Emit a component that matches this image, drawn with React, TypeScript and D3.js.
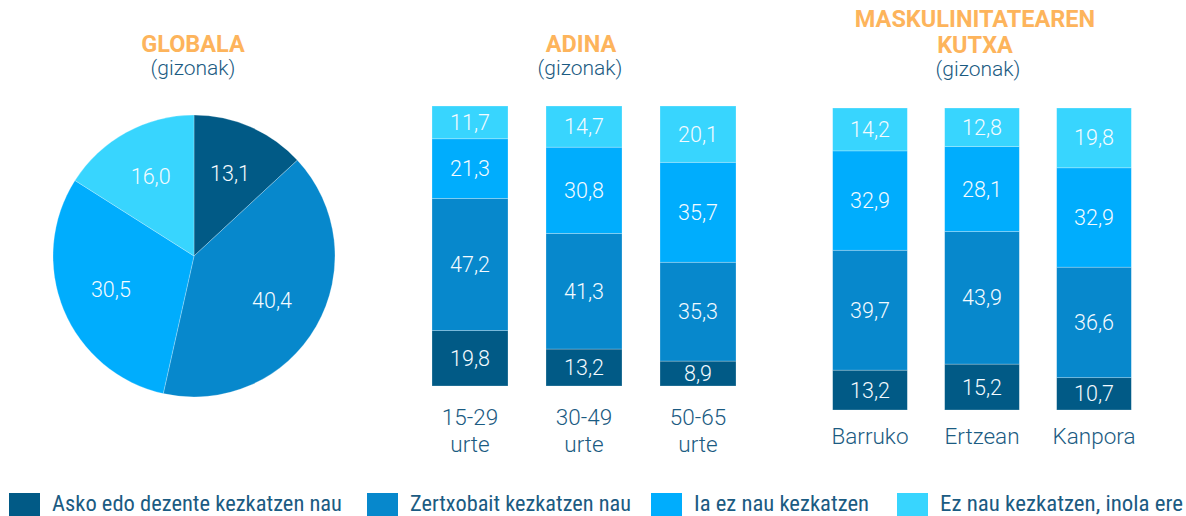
import React from "react";
import * as d3 from "d3";

const SERIES = [
  "Asko edo dezente kezkatzen nau",
  "Zertxobait kezkatzen nau",
  "Ia ez nau kezkatzen",
  "Ez nau kezkatzen, inola ere",
];
const COLORS = ["#015a86", "#0788cc", "#00adfd", "#38d5fe"];

const PIE_VALUES = [13.1, 40.4, 30.5, 16.0];

const AGE_CATS = ["15-29|urte", "30-49|urte", "50-65|urte"];
const AGE_VALUES = [
  [19.8, 47.2, 21.3, 11.7],
  [13.2, 41.3, 30.8, 14.7],
  [8.9, 35.3, 35.7, 20.1],
];

const BOX_CATS = ["Barruko", "Ertzean", "Kanpora"];
const BOX_VALUES = [
  [13.2, 39.7, 32.9, 14.2],
  [15.2, 43.9, 28.1, 12.8],
  [10.7, 36.6, 32.9, 19.8],
];

const fmt = (v: number) => v.toFixed(1).replace(".", ",");
const ORANGE = "#fdb45c";
const NAVY = "#1b5b82";
const FONT = "Roboto, 'Liberation Sans', sans-serif";

function Stacked({ cats, values, x0, x1, yTop, yBottom, labelY }: any) {
  const x = d3.scaleBand<string>().domain(cats).range([x0, x1]).paddingInner(1 / 3).paddingOuter(1 / 6);
  const y = d3.scaleLinear().domain([0, 100]).range([yBottom, yTop]);
  const stack = d3.stack<number[]>().keys([0, 1, 2, 3] as any).value((d: any, k: any) => d[k]);
  const layers = stack(values as any);
  return (
    <g>
      {layers.map((layer, si) =>
        layer.map((seg, ci) => {
          const bx = x(cats[ci])!;
          const top = y(seg[1]);
          const bot = y(seg[0]);
          return (
            <g key={`${si}-${ci}`}>
              <rect x={bx} y={top} width={x.bandwidth()} height={bot - top} fill={COLORS[si]} stroke="rgba(255,255,255,0.35)" strokeWidth={0.7} />
              <text x={bx + x.bandwidth() / 2} y={(top + bot) / 2 + 7.5} textAnchor="middle" fill="#f4fbff" fontSize={21.5} fontWeight={300} fontFamily={FONT}>
                {fmt(values[ci][si])}
              </text>
            </g>
          );
        })
      )}
      {cats.map((c: string) => {
        const lines = c.split("|");
        return (
          <text key={c} x={x(c)! + x.bandwidth() / 2} y={labelY} textAnchor="middle" fill={NAVY} fontSize={22.5} fontWeight={300} fontFamily={FONT}>
            {lines.map((l, i) => (
              <tspan key={i} x={x(c)! + x.bandwidth() / 2} dy={i === 0 ? 0 : 27}>{l}</tspan>
            ))}
          </text>
        );
      })}
    </g>
  );
}

export default function App() {
  const cx = 194, cy = 256, r = 141;
  const pie = d3.pie<number>().sort(null).value((d) => d)(PIE_VALUES);
  const arc = d3.arc<d3.PieArcDatum<number>>().innerRadius(0).outerRadius(r);
  const labelArc = d3.arc<d3.PieArcDatum<number>>().innerRadius(70).outerRadius(110);

  const legendX = [9, 367, 651, 897];
  const legendW = [290, 221, 175, 243];

  return (
    <svg width={1186} height={516} style={{ position: "absolute", left: 0, top: 0, display: "block" }}>
      <rect width={1186} height={516} fill="#fff" />
      {/* Titles */}
      <text x={193} y={52} textAnchor="middle" fill={ORANGE} fontSize={23.5} fontWeight={700} fontFamily={FONT}>GLOBALA</text>
      <text x={193} y={75} textAnchor="middle" fill={NAVY} fontSize={21} fontWeight={300} fontFamily={FONT}>(gizonak)</text>
      <text x={581} y={52} textAnchor="middle" fill={ORANGE} fontSize={23.5} fontWeight={700} fontFamily={FONT}>ADINA</text>
      <text x={580} y={75} textAnchor="middle" fill={NAVY} fontSize={21} fontWeight={300} fontFamily={FONT}>(gizonak)</text>
      <text x={975} y={27} textAnchor="middle" fill={ORANGE} fontSize={23.5} fontWeight={700} fontFamily={FONT}>MASKULINITATEAREN</text>
      <text x={975} y={53} textAnchor="middle" fill={ORANGE} fontSize={23.5} fontWeight={700} fontFamily={FONT}>KUTXA</text>
      <text x={978} y={76} textAnchor="middle" fill={NAVY} fontSize={21} fontWeight={300} fontFamily={FONT}>(gizonak)</text>

      {/* Pie */}
      <g transform={`translate(${cx},${cy})`}>
        {pie.map((p, i) => (
          <path key={i} d={arc(p)!} fill={COLORS[i]} stroke="rgba(255,255,255,0.35)" strokeWidth={0.7} />
        ))}
        {pie.map((p, i) => {
          const [lx, ly] = labelArc.centroid(p);
          return (
            <text key={i} x={lx} y={ly + 7} textAnchor="middle" fill="#f4fbff" fontSize={21.5} fontWeight={300} fontFamily={FONT}>
              {fmt(PIE_VALUES[i])}
            </text>
          );
        })}
      </g>

      <Stacked cats={AGE_CATS} values={AGE_VALUES} x0={413} x1={755} yTop={106} yBottom={386} labelY={425} />
      <Stacked cats={BOX_CATS} values={BOX_VALUES} x0={814} x1={1150} yTop={108} yBottom={410} labelY={444} />

      {/* Legend */}
      {SERIES.map((s, i) => (
        <g key={s}>
          <rect x={legendX[i]} y={493} width={31} height={23} fill={COLORS[i]} />
          <text x={legendX[i] + 43} y={510.5} fill={NAVY} fontSize={22} fontFamily="'Liberation Sans Narrow', 'Roboto Condensed', Roboto, sans-serif" textLength={legendW[i]} lengthAdjust="spacingAndGlyphs">
            {s}
          </text>
        </g>
      ))}
    </svg>
  );
}
